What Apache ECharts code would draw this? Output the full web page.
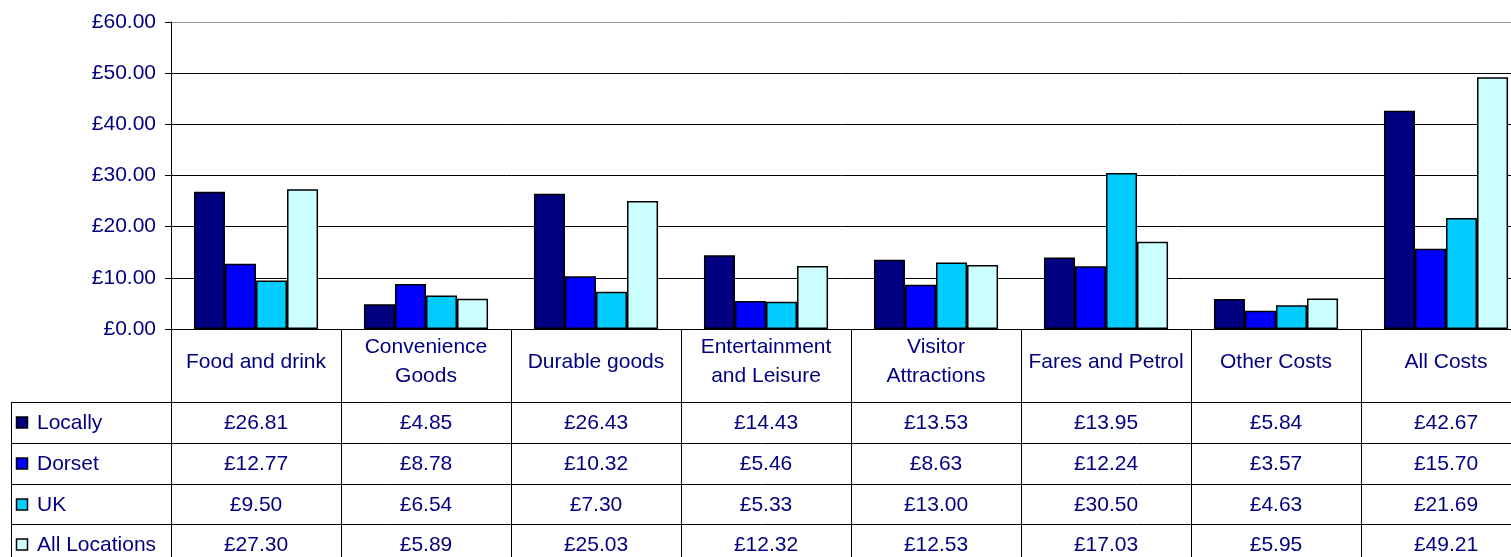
<!DOCTYPE html>
<html>
<head>
<meta charset="utf-8">
<script src="https://cdn.jsdelivr.net/npm/echarts@6/dist/echarts.min.js"></script>
<style>
  html, body { margin: 0; padding: 0; background: #fff; }
  #chart { width: 1511px; height: 557px; }
</style>
</head>
<body>
<div id="chart"></div>
<script>
// data
const categories = ['Food and drink', 'Convenience\nGoods', 'Durable goods', 'Entertainment\nand Leisure',
  'Visitor\nAttractions', 'Fares and Petrol', 'Other Costs', 'All Costs'];
const seriesNames = ['Locally', 'Dorset', 'UK', 'All Locations'];
const locally = [26.81, 4.85, 26.43, 14.43, 13.53, 13.95, 5.84, 42.67];
const dorset = [12.77, 8.78, 10.32, 5.46, 8.63, 12.24, 3.57, 15.70];
const uk = [9.50, 6.54, 7.30, 5.33, 13.00, 30.50, 4.63, 21.69];
const allLocations = [27.30, 5.89, 25.03, 12.32, 12.53, 17.03, 5.95, 49.21];
const yTicks = [0, 10, 20, 30, 40, 50, 60];

const colors = ['#000080', '#0000ff', '#00ccff', '#ccffff'];
const textColor = '#000080';
const font = 'Liberation Sans, Arial, sans-serif';
const fontSize = 21;
const allSeries = [locally, dorset, uk, allLocations];

const chart = echarts.init(document.getElementById('chart'));

const money = (v) => '£' + v.toFixed(2);

chart.setOption({
  animation: false,
  textStyle: { fontFamily: font },
  // plot runs past the right edge of the page, as in the original
  grid: { left: 171, top: 22, width: 1360, height: 307, outerBoundsMode: 'none', containLabel: false },
  xAxis: {
    type: 'category',
    data: categories,
    axisLine: { lineStyle: { color: '#000', width: 1 } },
    axisTick: { show: true, length: 230, interval: 0, lineStyle: { color: '#000' } },
    axisLabel: {
      interval: 0,
      margin: 33,
      verticalAlign: 'middle',
      lineHeight: 29,
      fontSize: fontSize,
      color: textColor,
      fontFamily: font
    }
  },
  yAxis: {
    type: 'value',
    min: yTicks[0],
    max: yTicks[yTicks.length - 1],
    interval: 10,
    axisLine: { show: true, lineStyle: { color: '#000' } },
    axisTick: { show: true, length: 6, lineStyle: { color: '#000' } },
    axisLabel: {
      formatter: money,
      margin: 15,
      fontSize: fontSize,
      color: textColor,
      fontFamily: font
    },
    splitLine: { lineStyle: { color: ['#000', '#000', '#000', '#000', '#000', '#000', '#999'], width: 1 } }
  },
  series: allSeries.map((vals, i) => ({
    name: seriesNames[i],
    type: 'bar',
    data: vals,
    barGap: '0%',
    barCategoryGap: '27%',
    itemStyle: { color: colors[i], borderColor: '#000', borderWidth: 1.5 }
  }))
});

// data table under the chart
const rowTops = [402, 443, 484, 524];
const tableLeft = 11;
const tableRight = 1531;
const graphics = [];

rowTops.forEach((y) => {
  graphics.push({
    type: 'line',
    shape: { x1: tableLeft, y1: y + 0.5, x2: tableRight, y2: y + 0.5 },
    style: { stroke: '#000', lineWidth: 1 }
  });
});
graphics.push({
  type: 'line',
  shape: { x1: tableLeft + 0.5, y1: rowTops[0], x2: tableLeft + 0.5, y2: 557 },
  style: { stroke: '#000', lineWidth: 1 }
});

allSeries.forEach((vals, r) => {
  const cy = rowTops[r] + 21;
  graphics.push({
    type: 'rect',
    shape: { x: 16.5, y: cy - 6, width: 11, height: 11 },
    style: { fill: colors[r], stroke: '#000', lineWidth: 1.5 }
  });
  graphics.push({
    type: 'text',
    x: 37, y: cy,
    style: { text: seriesNames[r], fill: textColor, font: fontSize + 'px ' + font, verticalAlign: 'middle', align: 'left' }
  });
  vals.forEach((v, c) => {
    const cx = chart.convertToPixel({ xAxisIndex: 0 }, c);
    graphics.push({
      type: 'text',
      x: cx, y: cy,
      style: { text: money(v), fill: textColor, font: fontSize + 'px ' + font, verticalAlign: 'middle', align: 'center' }
    });
  });
});

chart.setOption({ graphic: graphics });
</script>
</body>
</html>
